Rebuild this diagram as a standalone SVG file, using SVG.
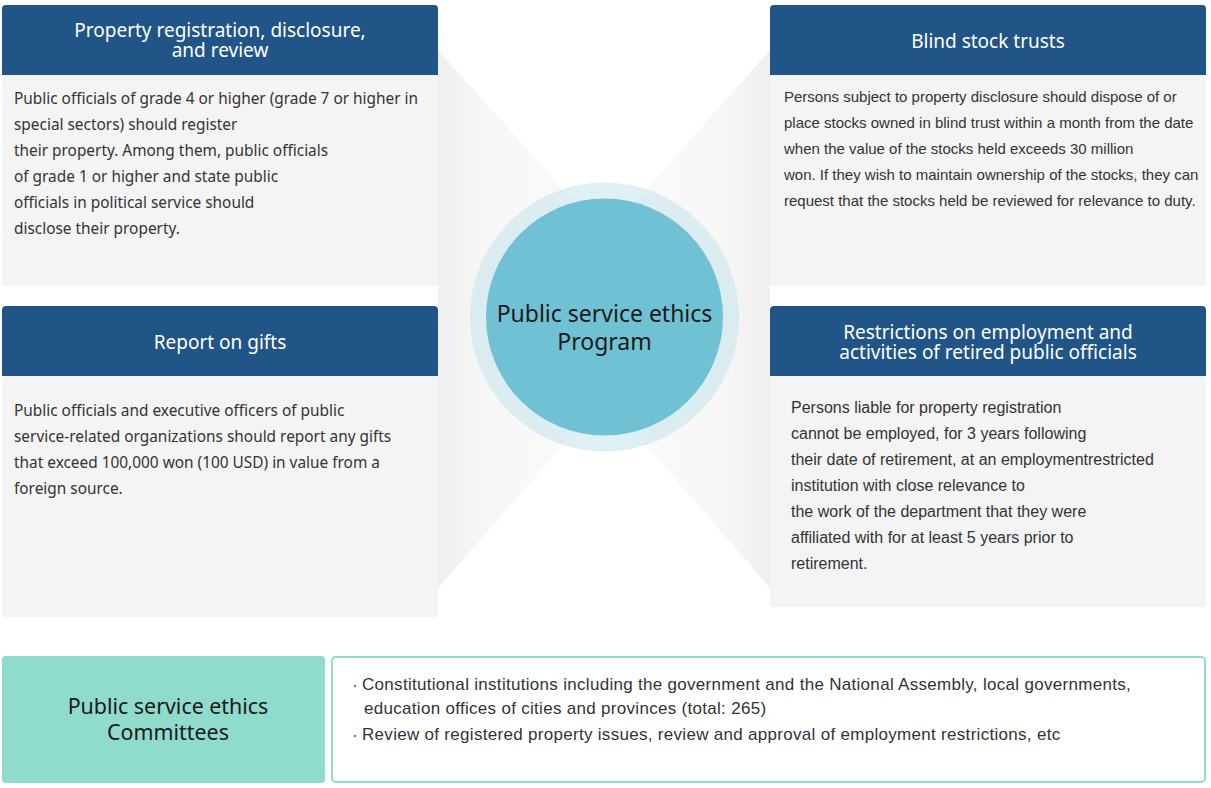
<svg xmlns="http://www.w3.org/2000/svg" width="1211" height="788" viewBox="0 0 1211 788">
<defs>
<linearGradient id="bg" x1="438" y1="0" x2="770" y2="0" gradientUnits="userSpaceOnUse">
<stop offset="0" stop-color="#efefef"/>
<stop offset="0.15" stop-color="#f7f7f7"/>
<stop offset="0.5" stop-color="#fbfbfb"/>
<stop offset="0.85" stop-color="#f7f7f7"/>
<stop offset="1" stop-color="#efefef"/>
</linearGradient>
<style>
.body{fill:#f4f4f4}
.head{fill:#215487}
.ht{font-family:"Noto Sans","Liberation Sans",sans-serif;font-size:19px;fill:#ffffff;text-anchor:middle}
.bt{font-family:"Noto Sans","Liberation Sans",sans-serif;font-size:15.4px;fill:#333333}
.bt2{font-family:"Liberation Sans",sans-serif;font-size:15px;fill:#333333}
.bt3{font-family:"Liberation Sans",sans-serif;font-size:16px;fill:#333333}
.ct{font-family:"Noto Sans","Liberation Sans",sans-serif;font-size:23px;fill:#1a1a1a;text-anchor:middle}
.cm{font-family:"Noto Sans","Liberation Sans",sans-serif;font-size:21.4px;fill:#1a1a1a;text-anchor:middle}
.lt{font-family:"Liberation Sans",sans-serif;font-size:17px;fill:#333333;letter-spacing:0.3px}
</style>
</defs>
<rect width="1211" height="788" fill="#ffffff"/>
<g id="background">
<polygon points="438,50 605,236 770,50 770,588 605,398 438,588" fill="url(#bg)"/>
</g>
<g id="connectors"></g>
<g id="node-property">
<rect x="2" y="5" width="436" height="281" rx="4" class="body"/>
<path d="M2,75 V9 a4,4 0 0 1 4,-4 H434 a4,4 0 0 1 4,4 V75 Z" class="head"/>
<text class="ht" x="220" y="37">Property registration, disclosure,</text>
<text class="ht" x="220" y="57">and review</text>
<text class="bt" x="14" y="104">Public officials of grade 4 or higher (grade 7 or higher in</text>
<text class="bt" x="14" y="130">special sectors) should register</text>
<text class="bt" x="14" y="156">their property. Among them, public officials</text>
<text class="bt" x="14" y="182">of grade 1 or higher and state public</text>
<text class="bt" x="14" y="208">officials in political service should</text>
<text class="bt" x="14" y="234">disclose their property.</text>
</g>
<g id="node-blind">
<rect x="770" y="5" width="436" height="281" rx="4" class="body"/>
<path d="M770,75 V9 a4,4 0 0 1 4,-4 H1202 a4,4 0 0 1 4,4 V75 Z" class="head"/>
<text class="ht" x="988" y="48">Blind stock trusts</text>
<text class="bt2" x="784" y="102">Persons subject to property disclosure should dispose of or</text>
<text class="bt2" x="784" y="128">place stocks owned in blind trust within a month from the date</text>
<text class="bt2" x="784" y="154">when the value of the stocks held exceeds 30 million</text>
<text class="bt2" x="784" y="180">won. If they wish to maintain ownership of the stocks, they can</text>
<text class="bt2" x="784" y="206">request that the stocks held be reviewed for relevance to duty.</text>
</g>
<g id="node-gifts">
<rect x="2" y="306" width="436" height="311" rx="4" class="body"/>
<path d="M2,376 V310 a4,4 0 0 1 4,-4 H434 a4,4 0 0 1 4,4 V376 Z" class="head"/>
<text class="ht" x="220" y="349">Report on gifts</text>
<text class="bt" x="14" y="416">Public officials and executive officers of public</text>
<text class="bt" x="14" y="442">service-related organizations should report any gifts</text>
<text class="bt" x="14" y="468">that exceed 100,000 won (100 USD) in value from a</text>
<text class="bt" x="14" y="494">foreign source.</text>
</g>
<g id="node-restrictions">
<rect x="770" y="306" width="436" height="301" rx="4" class="body"/>
<path d="M770,376 V310 a4,4 0 0 1 4,-4 H1202 a4,4 0 0 1 4,4 V376 Z" class="head"/>
<text class="ht" x="988" y="339">Restrictions on employment and</text>
<text class="ht" x="988" y="359">activities of retired public officials</text>
<text class="bt3" x="791" y="413">Persons liable for property registration</text>
<text class="bt3" x="791" y="439">cannot be employed, for 3 years following</text>
<text class="bt3" x="791" y="465">their date of retirement, at an employmentrestricted</text>
<text class="bt3" x="791" y="491">institution with close relevance to</text>
<text class="bt3" x="791" y="517">the work of the department that they were</text>
<text class="bt3" x="791" y="543">affiliated with for at least 5 years prior to</text>
<text class="bt3" x="791" y="569">retirement.</text>
</g>
<g id="node-center">
<circle cx="604.5" cy="317" r="134.5" fill="#c5e4ec" fill-opacity="0.55"/>
<circle cx="604.5" cy="317" r="118.5" fill="#6fc1d3"/>
<text class="ct" x="604.5" y="322">Public service ethics</text>
<text class="ct" x="604.5" y="350">Program</text>
</g>
<g id="node-committees">
<rect x="2" y="656" width="323" height="127" rx="4" fill="#8fdbcc"/>
<text class="cm" x="168" y="714">Public service ethics</text>
<text class="cm" x="168" y="740">Committees</text>
</g>
<g id="node-committees-desc">
<rect x="332" y="657" width="873" height="125" rx="4" fill="#ffffff" stroke="#8fdbcc" stroke-width="2"/>
<circle cx="355" cy="686" r="1.2" fill="#5b7a9a"/>
<circle cx="355" cy="736" r="1.2" fill="#5b7a9a"/>
<text class="lt" x="362" y="690">Constitutional institutions including the government and the National Assembly, local governments,</text>
<text class="lt" x="364" y="714">education offices of cities and provinces (total: 265)</text>
<text class="lt" x="362" y="740">Review of registered property issues, review and approval of employment restrictions, etc</text>
</g>
</svg>
